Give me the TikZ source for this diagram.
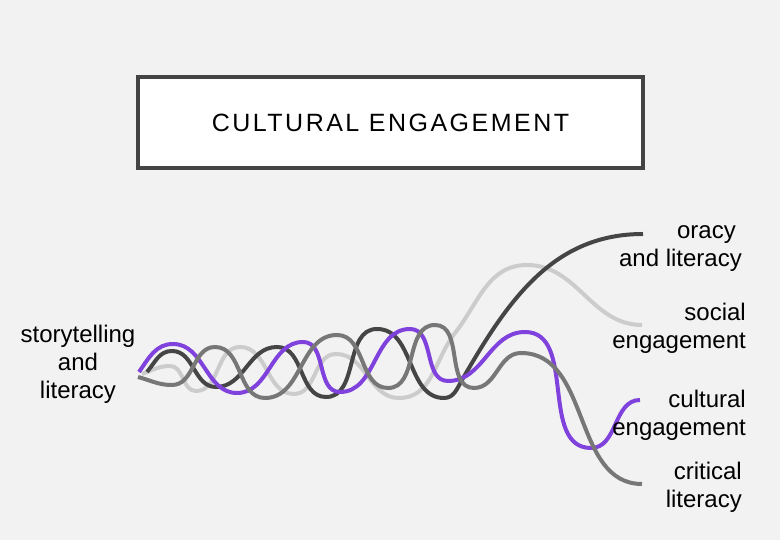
\documentclass[tikz,border=0pt]{standalone}
\usepackage{fontspec}
\setmainfont{Liberation Sans}
\newfontfamily\titlefont[LetterSpace=10]{Liberation Sans}
\usetikzlibrary{positioning}
\definecolor{bggray}{HTML}{F2F2F2}
\definecolor{boxline}{HTML}{444444}
\definecolor{oracygray}{HTML}{454545}
\definecolor{socialgray}{HTML}{CCCCCC}
\definecolor{criticalgray}{HTML}{777777}
\definecolor{culturalpurple}{HTML}{8042DC}

\begin{document}
\begin{tikzpicture}[x=1pt,y=1pt,
titlebox/.style={draw=boxline,line width=3.5pt,fill=white,minimum width=505pt,minimum height=91pt,font=\titlefont\fontsize{25}{30}\selectfont},
lbl/.style={font=\fontsize{24}{28}\selectfont,inner sep=0pt,align=right,anchor=base east},
wave/.style={line width=4pt}]
\fill[bggray] (0,0) rectangle (780,540);
\node[titlebox] (title) at (390.5,417.5) {CULTURAL ENGAGEMENT};

\coordinate (social-start) at (142,166);
\coordinate (oracy-start) at (147,168);
\coordinate (cultural-start) at (139,168);
\coordinate (critical-start) at (138,163);
\coordinate (oracy-end) at (643,306);
\coordinate (social-end) at (642,215);
\coordinate (cultural-end) at (640,140);
\coordinate (critical-end) at (642,56);

\draw[wave,socialgray] (social-start) to[out=20,in=180] (170,174) to[out=0,in=180] (196,149)
  to[out=0,in=180] (240,193) to[out=0,in=180] (294,146) to[out=0,in=180] (336,186)
  to[out=0,in=180] (399,142) to[out=0,in=232] (455,207) to[out=52,in=180] (527,275)
  to[out=0,in=180] (social-end);
\draw[wave,oracygray] (oracy-start) to[out=50,in=180] (172,189) to[out=0,in=180] (216,153)
  to[out=0,in=180] (277,193) to[out=0,in=180] (326,143) to[out=0,in=180] (377,211)
  to[out=0,in=180] (444,142) to[out=0,in=240] (462,160) to[out=60,in=180] (oracy-end);
\draw[wave,culturalpurple] (cultural-start) to[out=55,in=180] (173,196) to[out=0,in=180] (237,147)
  to[out=0,in=180] (303,198) to[out=0,in=180] (340,148) to[out=0,in=180] (410,211)
  to[out=0,in=180] (448,159) to[out=0,in=180] (525,208) to[out=0,in=180] (591,92)
  to[out=0,in=180] (cultural-end);
\draw[wave,criticalgray] (critical-start) to[out=-15,in=180] (172,155) to[out=0,in=180] (215,193)
  to[out=0,in=180] (265,142) to[out=0,in=180] (337,205) to[out=0,in=180] (388,152)
  to[out=0,in=180] (435,215) to[out=0,in=180] (474,152) to[out=0,in=180] (521,187)
  to[out=0,in=180] (critical-end);

\node[lbl,align=center,anchor=base] (story) at (78,141) {storytelling\\and\\literacy};
\node[lbl] (oracy) at (742,273) {oracy\kern6pt\\and literacy};
\node[lbl] (social) at (746,191) {social\\engagement};
\node[lbl] (cultural) at (746,104) {cultural\\engagement};
\node[lbl] (critical) at (742,32) {critical\\literacy};
\end{tikzpicture}
\end{document}
